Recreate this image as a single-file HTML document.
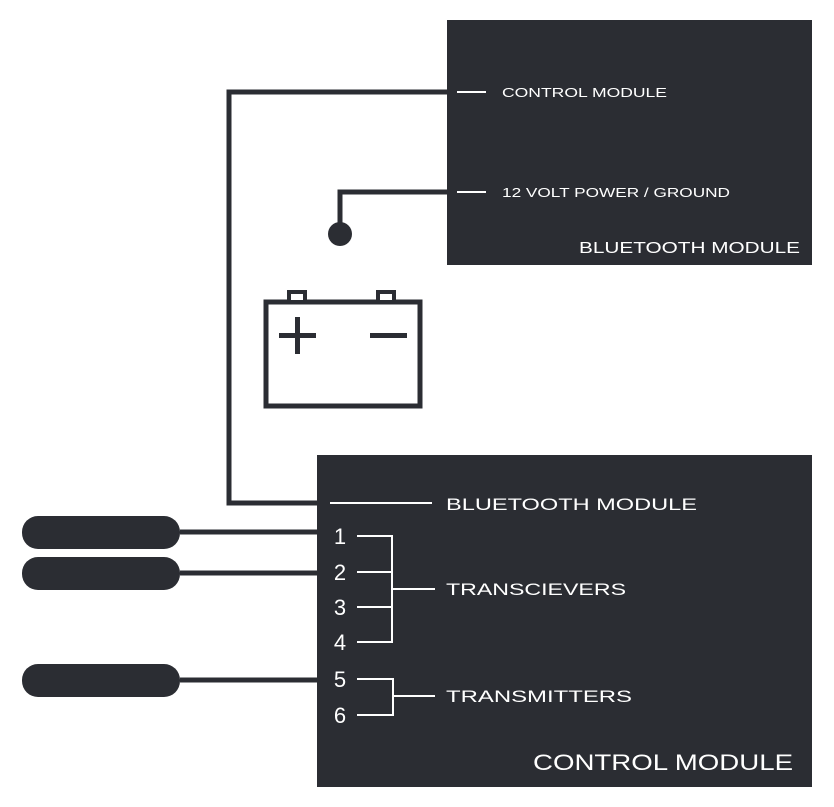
<!DOCTYPE html>
<html><head><style>
body{margin:0;background:#fff;}
svg{display:block}
text{font-family:"Liberation Sans",sans-serif;fill:#fff;}
</style></head><body>
<svg width="834" height="807" viewBox="0 0 834 807">
<rect width="834" height="807" fill="#fff"/>
<rect x="447" y="20" width="365" height="245" fill="#2b2d33"/>
<rect x="317" y="455" width="495" height="332" fill="#2b2d33"/>
<g stroke="#2b2d33" stroke-width="5" fill="none">
<polyline points="447,92 229,92 229,503 318,503"/>
<polyline points="447,192 340,192 340,228"/>
<rect x="266" y="302" width="154" height="104"/>
<line x1="180" y1="532" x2="318" y2="532"/>
<line x1="180" y1="573" x2="318" y2="573"/>
<line x1="180" y1="680" x2="318" y2="680"/>
</g>
<circle cx="340" cy="234" r="12" fill="#2b2d33"/>
<g fill="#2b2d33">
<rect x="287" y="290" width="20" height="14"/>
<rect x="376" y="290" width="20" height="14"/>
<rect x="279" y="333" width="37" height="5"/>
<rect x="295" y="317" width="5" height="37"/>
<rect x="370" y="333" width="37" height="5"/>
<rect x="22" y="516" width="158" height="33" rx="16"/>
<rect x="22" y="557" width="158" height="33" rx="16"/>
<rect x="22" y="664" width="158" height="33" rx="16"/>
</g>
<rect x="291" y="294" width="12" height="6" fill="#fff"/>
<rect x="380" y="294" width="12" height="6" fill="#fff"/>
<g stroke="#fff" stroke-width="2" fill="none">
<line x1="457" y1="92" x2="486" y2="92"/>
<line x1="457" y1="192" x2="486" y2="192"/>
<line x1="330" y1="503" x2="432" y2="503"/>
<polyline points="357,536 392,536 392,642 357,642"/>
<line x1="357" y1="572" x2="392" y2="572"/>
<line x1="357" y1="607" x2="392" y2="607"/>
<line x1="392" y1="589" x2="435" y2="589"/>
<polyline points="357,679 393,679 393,715 357,715"/>
<line x1="393" y1="696" x2="435" y2="696"/>
</g>
<text x="502" y="97" font-size="13" textLength="165" lengthAdjust="spacingAndGlyphs">CONTROL MODULE</text>
<text x="502" y="197" font-size="13" textLength="228" lengthAdjust="spacingAndGlyphs">12 VOLT POWER / GROUND</text>
<text x="579" y="253" font-size="16" textLength="221" lengthAdjust="spacingAndGlyphs">BLUETOOTH MODULE</text>
<text x="446" y="510" font-size="17" textLength="251" lengthAdjust="spacingAndGlyphs">BLUETOOTH MODULE</text>
<text x="446" y="595" font-size="17" textLength="180" lengthAdjust="spacingAndGlyphs">TRANSCIEVERS</text>
<text x="446" y="702" font-size="17" textLength="186" lengthAdjust="spacingAndGlyphs">TRANSMITTERS</text>
<g font-size="22" text-anchor="middle">
<text x="340" y="544">1</text>
<text x="340" y="580">2</text>
<text x="340" y="615">3</text>
<text x="340" y="650">4</text>
<text x="340" y="687">5</text>
<text x="340" y="723">6</text>
</g>
<text x="533" y="770" font-size="22" textLength="260" lengthAdjust="spacingAndGlyphs">CONTROL MODULE</text>
</svg>
</body></html>
